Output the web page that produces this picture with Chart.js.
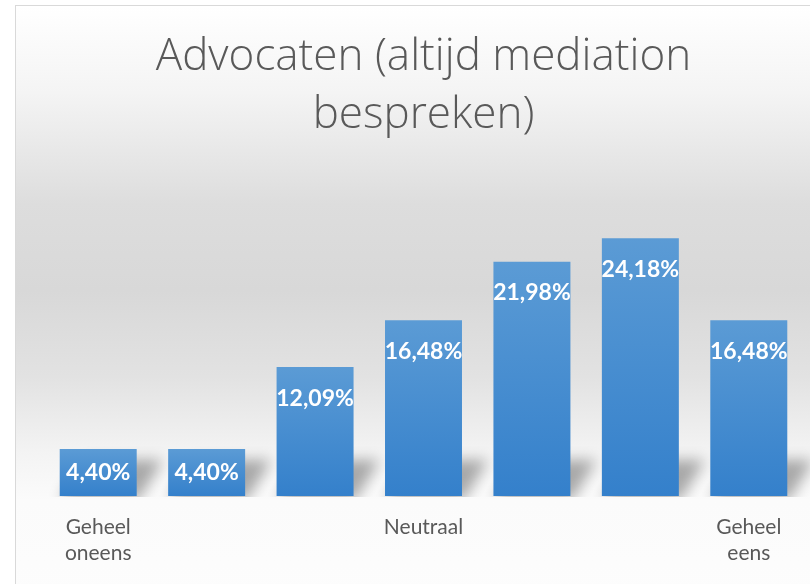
<!DOCTYPE html>
<html>
<head>
<meta charset="utf-8">
<script src="https://cdn.jsdelivr.net/npm/chart.js@4/dist/chart.umd.min.js"></script>
<style>
html,body{margin:0;padding:0;overflow:hidden;background:#fff;width:810px;height:584px;}
.frame{position:absolute;left:15px;top:5px;width:830px;height:620px;box-sizing:border-box;
  border:1px solid #d9d9d9;
  background:linear-gradient(to bottom,#ffffff 0%,#f4f4f4 14%,#dddddd 32%,#d8d8d8 46%,#e2e2e2 60%,#f3f3f3 72%,#fbfbfb 80%,#fdfdfd 100%);}
.wrap{position:absolute;left:0;top:0;width:828px;height:618px;}
</style>
</head>
<body>
<div class="frame"><div class="wrap"><canvas id="myChart"></canvas></div></div>
<script>
// values
const titleLines = ['Advocaten (altijd mediation', 'bespreken)'];
const categories = [['Geheel', 'oneens'], '', '', 'Neutraal', '', '', ['Geheel', 'eens']];
const percentages = [4.40, 4.40, 12.09, 16.48, 21.98, 24.18, 16.48];
const yMax = 30;

function pct(v){
  return v.toFixed(2).replace('.', ',') + '%';
}

// soft shadow cast behind the foot of each bar
// (shape drawn off canvas, only its blurred shadow lands on the chart)
const barShadow = {
  id: 'barShadow',
  beforeDatasetsDraw(chart){
    const ctx = chart.ctx;
    const meta = chart.getDatasetMeta(0);
    const off = 2000;
    ctx.save();
    ctx.beginPath();
    ctx.rect(0, 0, chart.width, chart.chartArea.bottom + 1);
    ctx.clip();
    ctx.shadowColor = 'rgba(0,0,0,0.32)';
    ctx.shadowBlur = 14;
    ctx.shadowOffsetX = off;
    ctx.fillStyle = '#000';
    meta.data.forEach(bar => {
      const p = bar.getProps(['x', 'y', 'base', 'width'], true);
      const x0 = p.x - p.width / 2 - off, x1 = p.x + p.width / 2 - off;
      const h = 36, dx = 26;
      ctx.beginPath();
      ctx.moveTo(x0, p.base + 4);
      ctx.lineTo(x1 + 2, p.base + 4);
      ctx.lineTo(x1 + dx, p.base - h);
      ctx.lineTo(x0 + dx, p.base - h);
      ctx.closePath();
      ctx.fill();
    });
    ctx.restore();
  }
};

// white labels inside the top of the bars
const barLabels = {
  id: 'barLabels',
  afterDatasetsDraw(chart){
    const ctx = chart.ctx;
    const meta = chart.getDatasetMeta(0);
    ctx.save();
    ctx.font = 'bold 23px Lato';
    ctx.fillStyle = '#ffffff';
    ctx.textAlign = 'center';
    ctx.textBaseline = 'middle';
    meta.data.forEach((bar, i) => {
      const p = bar.getProps(['x', 'y', 'base'], true);
      const y = Math.min(p.y + 31, (p.y + p.base) / 2);
      ctx.fillText(pct(percentages[i]), p.x, y);
    });
    ctx.restore();
  }
};

const ctx = document.getElementById('myChart');
new Chart(ctx, {
  type: 'bar',
  data: {
    labels: categories,
    datasets: [{
      data: percentages,
      backgroundColor(c){
        const ys = c.chart.scales.y;
        if (!ys || !c.chart.chartArea || c.raw === undefined) return '#4a8fd3';
        const top = ys.getPixelForValue(c.raw);
        const bottom = ys.getPixelForValue(0);
        if (!isFinite(top) || !isFinite(bottom) || top === bottom) return '#4a8fd3';
        const g = c.chart.ctx.createLinearGradient(0, top, 0, bottom);
        g.addColorStop(0, '#5b9bd5');
        g.addColorStop(1, '#3480cb');
        return g;
      },
      borderWidth: 0,
      barPercentage: 0.71,
      categoryPercentage: 1
    }]
  },
  options: {
    responsive: true,
    maintainAspectRatio: false,
    animation: false,
    layout: {padding: {left: 28, right: 41, top: 0, bottom: 0}},
    plugins: {
      legend: {display: false},
      tooltip: {enabled: false},
      title: {
        display: true,
        text: titleLines,
        color: '#595959',
        font: {family: 'Open Sans', weight: 300, size: 44, lineHeight: 1.32},
        padding: {top: 22, bottom: 32}
      }
    },
    scales: {
      x: {
        grid: {display: false, drawTicks: false},
        border: {display: false},
        ticks: {
          color: '#595959',
          font: {family: 'Lato', size: 21, lineHeight: 1.25},
          padding: 18,
          maxRotation: 0,
          autoSkip: false
        },
        afterFit(s){ s.height = 128; }
      },
      y: {
        display: false,
        min: 0,
        max: yMax
      }
    }
  },
  plugins: [barShadow, barLabels]
});
</script>
</body>
</html>
